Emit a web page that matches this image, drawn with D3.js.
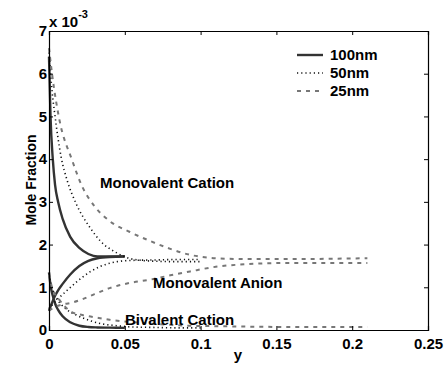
<!DOCTYPE html>
<html lang="en">
<head>
<meta charset="UTF-8">
<script src="https://d3js.org/d3.v7.min.js"></script>
<style>
    html, body { margin: 0; background: #fff; }
    svg { display: block; }
    text { font-family: "Liberation Sans", Arial, sans-serif; font-weight: bold; fill: #000; }
    .axis path, .axis line { stroke: #000; }
</style>
</head>
<body>
<svg id="chart" width="445" height="367"></svg>
<script>
// values are in units of 1e-3 (mole fraction)
var xs100 = [0, 0.001, 0.0025, 0.004, 0.006, 0.009, 0.014, 0.02, 0.026, 0.032, 0.04, 0.05];
var cation100 = [6.4, 5.0, 4.0, 3.4, 3.0, 2.6, 2.18, 1.92, 1.78, 1.72, 1.72, 1.73];
var anion100 = [0.45, 0.55, 0.68, 0.8, 0.93, 1.08, 1.3, 1.5, 1.62, 1.68, 1.71, 1.72];
var bival100 = [1.35, 1.05, 0.8, 0.62, 0.47, 0.32, 0.18, 0.1, 0.07, 0.06, 0.055, 0.05];

var xs50 = [0, 0.002, 0.004, 0.008, 0.012, 0.018, 0.027, 0.034, 0.045, 0.055, 0.07, 0.085, 0.1];
var cation50 = [6.5, 5.6, 5.0, 4.05, 3.5, 2.95, 2.4, 2.08, 1.8, 1.66, 1.61, 1.6, 1.6];
var anion50 = [0.5, 0.58, 0.66, 0.8, 0.93, 1.12, 1.36, 1.49, 1.6, 1.63, 1.64, 1.65, 1.65];
var bival50 = [1.3, 1.0, 0.8, 0.6, 0.47, 0.35, 0.22, 0.15, 0.1, 0.07, 0.06, 0.05, 0.05];

var xs25 = [0, 0.002, 0.007, 0.015, 0.022, 0.03, 0.04, 0.053, 0.067, 0.08, 0.093, 0.11, 0.13, 0.16, 0.19, 0.21];
var cation25 = [6.6, 6.0, 4.9, 4.0, 3.35, 2.9, 2.55, 2.3, 2.08, 1.9, 1.76, 1.68, 1.66, 1.66, 1.67, 1.68];
var anion25 = [0.45, 0.5, 0.58, 0.64, 0.72, 0.84, 0.98, 1.1, 1.18, 1.28, 1.37, 1.48, 1.54, 1.57, 1.57, 1.57];
var bival25 = [1.3, 1.0, 0.7, 0.42, 0.35, 0.3, 0.24, 0.19, 0.15, 0.12, 0.1, 0.09, 0.08, 0.07, 0.07, 0.07];

var xTicks = [0, 0.05, 0.1, 0.15, 0.2, 0.25];
var yTicks = [0, 1, 2, 3, 4, 5, 6, 7];
var legendNames = ["100nm", "50nm", "25nm"];

var styles = [
    { stroke: "#333", width: 2.4, dash: null },
    { stroke: "#111", width: 1.6, dash: "1.2,3" },
    { stroke: "#777", width: 2, dash: "4,5" }
];

var series = [
    { xs: xs100, ys: cation100, s: 0 }, { xs: xs100, ys: anion100, s: 0 }, { xs: xs100, ys: bival100, s: 0 },
    { xs: xs50, ys: cation50, s: 1 }, { xs: xs50, ys: anion50, s: 1 }, { xs: xs50, ys: bival50, s: 1 },
    { xs: xs25, ys: cation25, s: 2 }, { xs: xs25, ys: anion25, s: 2 }, { xs: xs25, ys: bival25, s: 2 }
];

var L = 49, T = 31, R = 428, B = 330;
var svg = d3.select("#chart");
var x = d3.scaleLinear().domain([0, 0.25]).range([L, R]);
var y = d3.scaleLinear().domain([0, 7]).range([B, T]);

var line = d3.line()
    .x(function (d) { return x(d[0]); })
    .y(function (d) { return y(d[1]); })
    .curve(d3.curveMonotoneX);

var g = svg.append("g");
series.forEach(function (sr) {
    var st = styles[sr.s];
    g.append("path")
        .attr("d", line(sr.xs.map(function (v, i) { return [v, sr.ys[i]]; })))
        .attr("fill", "none")
        .attr("stroke", st.stroke)
        .attr("stroke-width", st.width)
        .attr("stroke-dasharray", st.dash);
});

// box axes, matlab style ticks inward
var fmtX = function (d) { return d === 0 ? "0" : String(d); };
svg.append("g").attr("class", "axis").attr("transform", "translate(0," + B + ")")
    .call(d3.axisBottom(x).tickValues(xTicks).tickSize(-4).tickPadding(8).tickFormat(fmtX));
svg.append("g").attr("class", "axis").attr("transform", "translate(0," + T + ")")
    .call(d3.axisTop(x).tickValues(xTicks).tickSize(-4).tickFormat(""));
svg.append("g").attr("class", "axis").attr("transform", "translate(" + L + ",0)")
    .call(d3.axisLeft(y).tickValues(yTicks).tickSize(-4).tickPadding(2).tickFormat(d3.format("d")));
svg.append("g").attr("class", "axis").attr("transform", "translate(" + R + ",0)")
    .call(d3.axisRight(y).tickValues(yTicks).tickSize(-4).tickFormat(""));
svg.selectAll(".axis text").attr("font-family", null).attr("font-size", null)
    .style("font-size", "15px");
svg.selectAll(".axis path.domain").attr("stroke-width", 1.2);

// exponent
var ex = svg.append("text").attr("x", L).attr("y", 27).style("font-size", "15px");
ex.append("tspan").text("x 10");
ex.append("tspan").attr("dy", -9).style("font-size", "11px").text("-3");

svg.append("text").attr("x", 238).attr("y", 360).attr("text-anchor", "middle")
    .style("font-size", "15px").text("y");
svg.append("text").attr("transform", "translate(31,180) rotate(-90)").attr("text-anchor", "middle")
    .attr("dy", "0.35em").style("font-size", "14px").text("Mole Fraction");

// annotations
svg.append("text").attr("x", 100).attr("y", 188).style("font-size", "15px").text("Monovalent Cation");
svg.append("text").attr("x", 153).attr("y", 288).style("font-size", "15px").text("Monovalent Anion");
svg.append("text").attr("x", 125).attr("y", 325).style("font-size", "15px").text("Bivalent Cation");

// legend
var lg = svg.append("g");
legendNames.forEach(function (n, i) {
    var st = styles[i], ly = 55 + i * 18;
    lg.append("line").attr("x1", 297).attr("x2", 323).attr("y1", ly).attr("y2", ly)
        .attr("stroke", st.stroke).attr("stroke-width", st.width).attr("stroke-dasharray", st.dash);
    lg.append("text").attr("x", 330).attr("y", ly + 5).style("font-size", "15px").text(n);
});
</script>
</body>
</html>
